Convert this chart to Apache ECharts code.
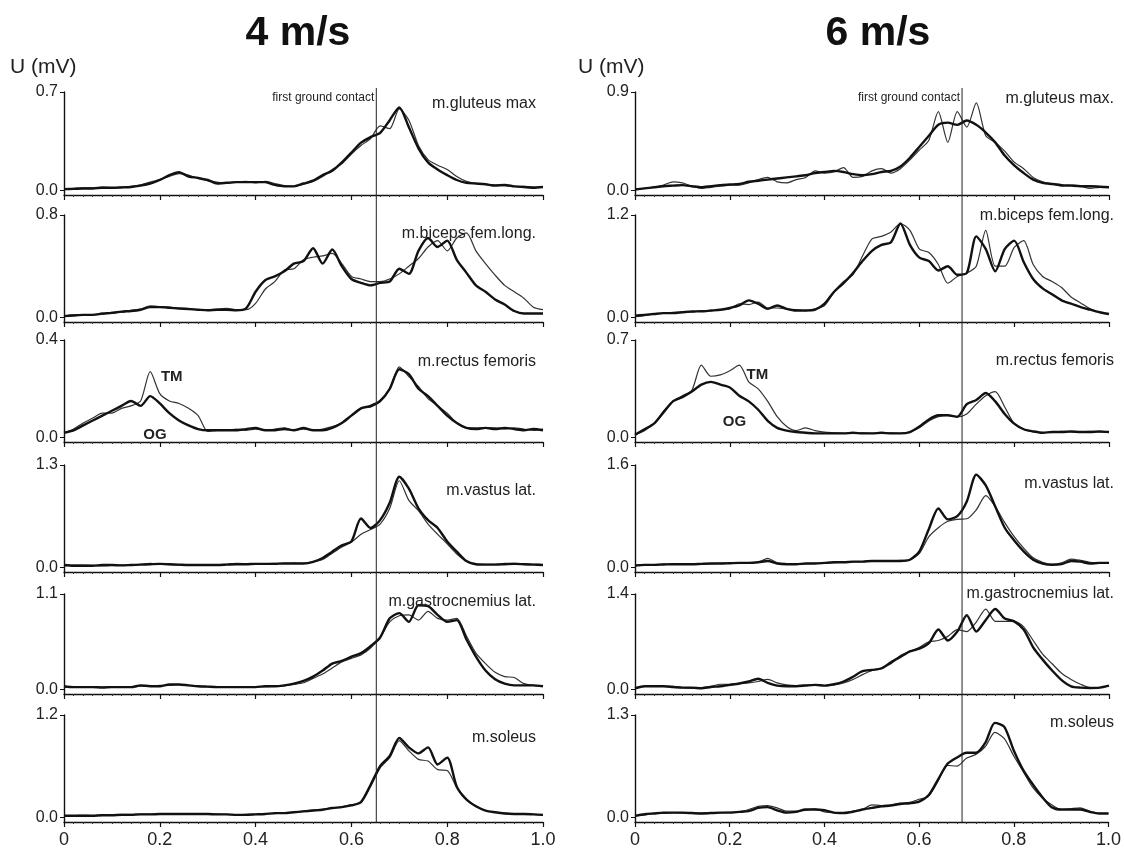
<!DOCTYPE html>
<html>
<head>
<meta charset="utf-8">
<script src="https://cdn.jsdelivr.net/npm/echarts@6/dist/echarts.min.js"></script>
<style>
html, body { margin: 0; padding: 0; background: #fff; }
#main { width: 1124px; height: 850px; }
</style>
</head>
<body>
<div id="main"></div>
<script>
// normalised stride time, 0 .. 1 in steps of 0.02
var xs = [0,0.02,0.04,0.06,0.08,0.1,0.12,0.14,0.16,0.18,0.2,0.22,0.24,0.26,0.28,0.3,0.32,0.34,0.36,0.38,
  0.4,0.42,0.44,0.46,0.48,0.5,0.52,0.54,0.56,0.58,0.6,0.62,0.64,0.66,0.68,0.7,0.72,0.74,0.76,0.78,
  0.8,0.82,0.84,0.86,0.88,0.9,0.92,0.94,0.96,0.98,1.0];

// 4 m/s  (OG = overground, thick; TM = treadmill, thin)
var og4Glut = [0.01,0.012,0.015,0.015,0.02,0.02,0.022,0.025,0.035,0.05,0.075,0.11,0.13,0.1,0.09,0.075,0.05,0.055,0.06,0.06,
  0.06,0.06,0.04,0.03,0.03,0.05,0.07,0.11,0.14,0.2,0.27,0.34,0.38,0.41,0.5,0.59,0.45,0.3,0.2,0.15,
  0.11,0.075,0.055,0.05,0.045,0.035,0.04,0.03,0.025,0.02,0.025];
var tm4Glut = [0.01,0.015,0.02,0.02,0.025,0.02,0.025,0.03,0.04,0.06,0.08,0.1,0.12,0.11,0.085,0.07,0.06,0.05,0.06,0.065,
  0.055,0.065,0.05,0.035,0.03,0.045,0.065,0.1,0.15,0.19,0.26,0.32,0.37,0.46,0.44,0.58,0.5,0.32,0.22,0.18,
  0.15,0.1,0.065,0.05,0.045,0.04,0.035,0.03,0.03,0.025,0.025];
var og4Bic = [0.01,0.015,0.02,0.02,0.03,0.035,0.045,0.05,0.06,0.08,0.08,0.075,0.07,0.065,0.06,0.055,0.06,0.06,0.055,0.07,
  0.2,0.29,0.32,0.36,0.42,0.44,0.54,0.42,0.53,0.4,0.3,0.27,0.25,0.27,0.28,0.38,0.34,0.52,0.62,0.55,
  0.6,0.45,0.35,0.25,0.2,0.14,0.1,0.05,0.03,0.03,0.03];
var tm4Bic = [0.01,0.02,0.015,0.02,0.025,0.04,0.04,0.055,0.065,0.09,0.085,0.08,0.07,0.07,0.06,0.06,0.065,0.07,0.06,0.06,
  0.11,0.22,0.28,0.37,0.38,0.45,0.47,0.48,0.5,0.42,0.32,0.3,0.28,0.28,0.3,0.34,0.4,0.46,0.55,0.6,
  0.52,0.62,0.66,0.52,0.42,0.33,0.25,0.2,0.15,0.08,0.06];
var og4Rect = [0.02,0.03,0.05,0.07,0.09,0.11,0.13,0.15,0.13,0.17,0.14,0.1,0.07,0.05,0.035,0.03,0.03,0.03,0.03,0.035,
  0.04,0.03,0.03,0.035,0.03,0.04,0.03,0.03,0.04,0.06,0.09,0.12,0.13,0.15,0.2,0.28,0.26,0.2,0.17,0.13,
  0.09,0.06,0.04,0.035,0.04,0.035,0.04,0.035,0.03,0.035,0.03];
var tm4Rect = [0.02,0.035,0.06,0.08,0.1,0.1,0.12,0.13,0.15,0.27,0.18,0.15,0.14,0.12,0.09,0.025,0.03,0.03,0.035,0.03,
  0.035,0.03,0.035,0.04,0.03,0.035,0.03,0.035,0.045,0.06,0.09,0.12,0.125,0.15,0.2,0.29,0.25,0.21,0.16,0.13,
  0.1,0.06,0.04,0.04,0.04,0.04,0.035,0.04,0.035,0.03,0.035];
var og4Vast = [0.03,0.02,0.02,0.02,0.03,0.03,0.025,0.03,0.035,0.04,0.045,0.04,0.035,0.03,0.03,0.03,0.03,0.035,0.04,0.04,
  0.045,0.045,0.045,0.05,0.05,0.05,0.07,0.12,0.2,0.28,0.33,0.62,0.5,0.6,0.82,1.15,1.0,0.75,0.6,0.5,
  0.33,0.2,0.08,0.04,0.035,0.035,0.04,0.045,0.04,0.035,0.03];
var tm4Vast = [0.02,0.03,0.03,0.025,0.02,0.025,0.03,0.03,0.04,0.05,0.04,0.035,0.03,0.03,0.03,0.03,0.035,0.04,0.05,0.045,
  0.04,0.045,0.05,0.05,0.055,0.05,0.07,0.1,0.18,0.26,0.32,0.42,0.48,0.55,0.75,1.1,0.85,0.72,0.55,0.42,
  0.3,0.17,0.08,0.04,0.04,0.04,0.05,0.05,0.045,0.04,0.035];
var og4Gast = [0.04,0.03,0.03,0.03,0.025,0.03,0.03,0.03,0.05,0.04,0.04,0.06,0.06,0.05,0.04,0.035,0.03,0.03,0.03,0.03,
  0.03,0.04,0.04,0.05,0.07,0.1,0.15,0.22,0.3,0.33,0.38,0.42,0.5,0.6,0.82,0.88,0.78,0.97,0.96,0.86,
  0.78,0.8,0.58,0.38,0.22,0.12,0.07,0.05,0.05,0.05,0.04];
var tm4Gast = [0.03,0.03,0.035,0.03,0.03,0.03,0.035,0.03,0.04,0.04,0.05,0.05,0.06,0.05,0.04,0.035,0.03,0.03,0.03,0.03,
  0.035,0.035,0.04,0.045,0.06,0.08,0.13,0.18,0.25,0.32,0.36,0.4,0.48,0.6,0.78,0.85,0.86,0.8,0.9,0.82,
  0.8,0.82,0.62,0.42,0.3,0.2,0.15,0.14,0.07,0.05,0.04];
var og4Sol = [0.02,0.02,0.02,0.02,0.025,0.025,0.03,0.03,0.035,0.035,0.04,0.04,0.04,0.04,0.04,0.04,0.035,0.035,0.03,0.03,
  0.035,0.04,0.05,0.05,0.06,0.07,0.08,0.09,0.11,0.12,0.14,0.18,0.38,0.6,0.72,0.93,0.82,0.75,0.82,0.62,
  0.7,0.36,0.21,0.13,0.08,0.06,0.045,0.04,0.04,0.035,0.03];
var tm4Sol = [0.02,0.02,0.025,0.02,0.03,0.03,0.035,0.035,0.04,0.04,0.04,0.045,0.04,0.045,0.04,0.04,0.04,0.035,0.03,0.035,
  0.035,0.04,0.045,0.05,0.06,0.075,0.085,0.095,0.11,0.125,0.15,0.17,0.36,0.58,0.7,0.9,0.78,0.68,0.66,0.56,
  0.55,0.35,0.22,0.13,0.08,0.06,0.05,0.04,0.04,0.035,0.03];

// 6 m/s
var og6Glut = [0.01,0.02,0.03,0.04,0.045,0.05,0.04,0.03,0.04,0.05,0.055,0.06,0.08,0.09,0.1,0.11,0.12,0.13,0.14,0.16,
  0.17,0.18,0.17,0.15,0.14,0.15,0.17,0.18,0.22,0.3,0.4,0.5,0.6,0.62,0.6,0.64,0.6,0.53,0.44,0.32,
  0.23,0.16,0.1,0.07,0.06,0.05,0.045,0.04,0.04,0.035,0.03];
var tm6Glut = [0.01,0.02,0.03,0.05,0.08,0.07,0.04,0.02,0.03,0.04,0.05,0.05,0.07,0.1,0.12,0.08,0.07,0.1,0.12,0.18,
  0.16,0.17,0.21,0.12,0.13,0.18,0.2,0.16,0.2,0.28,0.37,0.46,0.72,0.44,0.72,0.58,0.8,0.5,0.44,0.36,
  0.26,0.2,0.12,0.08,0.06,0.04,0.05,0.04,0.02,0.03,0.035];
var og6Bic = [0.02,0.03,0.04,0.05,0.05,0.06,0.07,0.07,0.08,0.09,0.11,0.14,0.2,0.16,0.1,0.14,0.1,0.08,0.08,0.09,
  0.16,0.3,0.4,0.52,0.66,0.78,0.85,0.88,1.1,0.85,0.7,0.66,0.55,0.6,0.5,0.52,0.95,0.8,0.54,0.8,
  0.9,0.65,0.45,0.34,0.27,0.2,0.16,0.12,0.09,0.06,0.04];
var tm6Bic = [0.01,0.02,0.04,0.05,0.06,0.06,0.06,0.08,0.08,0.09,0.1,0.16,0.15,0.18,0.11,0.11,0.1,0.09,0.08,0.1,
  0.14,0.3,0.42,0.5,0.72,0.92,0.95,1.0,1.1,1.02,0.8,0.76,0.62,0.4,0.48,0.52,0.6,1.02,0.6,0.6,
  0.82,0.9,0.62,0.48,0.42,0.35,0.24,0.17,0.1,0.06,0.04];
var og6Rect = [0.02,0.06,0.1,0.18,0.26,0.29,0.33,0.38,0.4,0.38,0.36,0.3,0.26,0.2,0.12,0.07,0.05,0.04,0.035,0.03,
  0.03,0.03,0.03,0.035,0.03,0.03,0.035,0.03,0.03,0.04,0.08,0.13,0.16,0.16,0.15,0.24,0.27,0.32,0.26,0.17,
  0.1,0.06,0.045,0.035,0.04,0.04,0.045,0.04,0.04,0.045,0.04];
var tm6Rect = [0.02,0.05,0.1,0.19,0.26,0.3,0.34,0.52,0.44,0.45,0.48,0.52,0.4,0.35,0.26,0.15,0.08,0.05,0.07,0.05,
  0.04,0.035,0.03,0.03,0.035,0.03,0.03,0.035,0.03,0.04,0.07,0.12,0.15,0.16,0.15,0.17,0.24,0.3,0.33,0.22,
  0.1,0.06,0.04,0.035,0.04,0.045,0.04,0.04,0.045,0.04,0.04];
var og6Vast = [0.03,0.04,0.04,0.045,0.05,0.05,0.05,0.055,0.06,0.06,0.065,0.07,0.07,0.08,0.1,0.06,0.05,0.05,0.06,0.06,
  0.07,0.08,0.08,0.09,0.09,0.1,0.1,0.1,0.1,0.12,0.25,0.6,0.92,0.75,0.8,1.03,1.45,1.28,0.95,0.62,
  0.42,0.25,0.12,0.06,0.04,0.05,0.1,0.09,0.06,0.07,0.07];
var tm6Vast = [0.03,0.04,0.045,0.05,0.05,0.055,0.05,0.06,0.06,0.065,0.07,0.07,0.075,0.08,0.14,0.07,0.06,0.05,0.06,0.065,
  0.07,0.075,0.08,0.085,0.09,0.1,0.1,0.1,0.11,0.12,0.22,0.48,0.62,0.72,0.75,0.76,0.9,1.12,0.95,0.7,
  0.48,0.3,0.15,0.08,0.05,0.07,0.13,0.11,0.08,0.07,0.07];
var og6Gast = [0.02,0.05,0.05,0.05,0.04,0.03,0.03,0.02,0.04,0.05,0.07,0.09,0.12,0.16,0.1,0.06,0.05,0.05,0.06,0.07,
  0.06,0.08,0.12,0.19,0.27,0.29,0.31,0.4,0.48,0.56,0.6,0.68,0.88,0.72,0.85,1.09,0.85,1.02,1.18,1.04,
  1.0,0.88,0.62,0.44,0.28,0.14,0.05,0.03,0.025,0.03,0.06];
var tm6Gast = [0.03,0.05,0.06,0.05,0.05,0.03,0.02,0.03,0.05,0.08,0.08,0.09,0.1,0.12,0.15,0.1,0.07,0.06,0.07,0.07,
  0.06,0.07,0.1,0.15,0.22,0.28,0.32,0.38,0.5,0.56,0.62,0.7,0.72,0.78,0.88,0.85,0.99,1.18,1.0,1.0,
  1.0,0.92,0.72,0.52,0.38,0.24,0.15,0.08,0.03,0.03,0.06];
var og6Sol = [0.02,0.04,0.05,0.06,0.06,0.06,0.055,0.05,0.055,0.06,0.06,0.07,0.08,0.12,0.13,0.09,0.06,0.07,0.1,0.1,
  0.09,0.06,0.055,0.07,0.1,0.12,0.14,0.15,0.17,0.18,0.2,0.28,0.48,0.68,0.76,0.82,0.82,0.95,1.2,1.15,
  0.85,0.6,0.42,0.26,0.13,0.1,0.1,0.1,0.07,0.05,0.05];
var tm6Sol = [0.02,0.03,0.05,0.05,0.06,0.055,0.05,0.055,0.06,0.06,0.065,0.07,0.1,0.14,0.15,0.12,0.08,0.08,0.09,0.11,
  0.07,0.06,0.06,0.08,0.1,0.16,0.15,0.16,0.18,0.19,0.23,0.27,0.46,0.66,0.65,0.75,0.8,0.9,1.08,1.0,
  0.78,0.58,0.38,0.25,0.16,0.1,0.11,0.12,0.08,0.05,0.05];

var speeds = ['4 m/s', '6 m/s'];
var musclesLeft = ['m.gluteus max', 'm.biceps fem.long.', 'm.rectus femoris', 'm.vastus lat.', 'm.gastrocnemius lat.', 'm.soleus'];
var musclesRight = ['m.gluteus max.', 'm.biceps fem.long.', 'm.rectus femoris', 'm.vastus lat.', 'm.gastrocnemius lat.', 'm.soleus'];
var maxLeft = [0.7, 0.8, 0.4, 1.3, 1.1, 1.2];
var maxRight = [0.9, 1.2, 0.7, 1.6, 1.4, 1.3];
var contact = [0.652, 0.69];
// label anchors in data coords for the rectus femoris panels: [x, y]
var tmLabel = [[0.225, 0.25], [0.258, 0.45]];
var ogLabel = [[0.19, 0.01], [0.21, 0.11]];

var ogData = [[og4Glut, og4Bic, og4Rect, og4Vast, og4Gast, og4Sol], [og6Glut, og6Bic, og6Rect, og6Vast, og6Gast, og6Sol]];
var tmData = [[tm4Glut, tm4Bic, tm4Rect, tm4Vast, tm4Gast, tm4Sol], [tm6Glut, tm6Bic, tm6Rect, tm6Vast, tm6Gast, tm6Sol]];
var muscles = [musclesLeft, musclesRight];
var maxes = [maxLeft, maxRight];

// layout
var FONT = '"Liberation Sans", Arial, sans-serif';
var rowTop = [92, 215, 340, 465, 594, 715];
var rowBottom = [195, 322, 442, 572, 694, 822];
var colLeft = [64, 635];
var colRight = [581, 15];
var nameTop = [[96, 226, 354, 483, 594, 730], [91, 208, 353, 476, 586, 715]];
var nameRight = [[588, 588, 588, 588, 588, 588], [10, 10, 10, 10, 10, 10]];

var chartDom = document.getElementById('main');
var myChart = echarts.init(chartDom);

var grids = [], xAxes = [], yAxes = [], series = [], titles = [];

function pairs(vals) {
  return xs.map(function (x, k) { return [x, vals[k]]; });
}

for (var c = 0; c < 2; c++) {
  titles.push({
    text: speeds[c], left: c === 0 ? 298 : 878, top: 13, textAlign: 'center', padding: 0,
    textStyle: { fontFamily: FONT, fontSize: 41, fontWeight: 'bold', color: '#111' }
  });
  titles.push({
    text: 'U (mV)', left: c === 0 ? 10 : 578, top: 57, padding: 0,
    textStyle: { fontFamily: FONT, fontSize: 21, fontWeight: 'normal', color: '#222' }
  });
  for (var r = 0; r < 6; r++) {
    var i = c * 6 + r;
    var mx = maxes[c][r];
    grids.push({ left: colLeft[c], right: colRight[c], top: rowTop[r], height: rowBottom[r] - rowTop[r] });
    xAxes.push({
      type: 'value', gridIndex: i, min: 0, max: 1, interval: 0.2,
      axisLine: { onZero: false, lineStyle: { color: '#111', width: 1.4 } },
      axisTick: { show: true, length: 5, lineStyle: { color: '#111', width: 1.2 } },
      minorTick: { show: true, splitNumber: 10, length: 2, lineStyle: { color: '#333' } },
      splitLine: { show: false },
      axisLabel: {
        show: r === 5, fontFamily: FONT, fontSize: 18, color: '#222', margin: 9,
        formatter: function (v) { return v === 0 ? '0' : v.toFixed(1); }
      }
    });
    yAxes.push({
      type: 'value', gridIndex: i, min: -0.045 * mx, max: mx,
      axisLine: { show: true, lineStyle: { color: '#111', width: 1.4 } },
      axisTick: { show: true, length: 4, customValues: [0, mx], lineStyle: { color: '#111' } },
      splitLine: { show: false },
      axisLabel: {
        customValues: [0, mx], fontFamily: FONT, fontSize: 16, color: '#222', margin: 6,
        formatter: function (v) { return v.toFixed(1); }
      }
    });
    titles.push({
      text: muscles[c][r], right: nameRight[c][r], top: nameTop[c][r], padding: 0,
      textStyle: { fontFamily: FONT, fontSize: 16, fontWeight: 'normal', color: '#222' }
    });
    var ogSeries = {
      name: 'OG', type: 'line', xAxisIndex: i, yAxisIndex: i, data: pairs(ogData[c][r]),
      showSymbol: false, smooth: 0.25, z: 3,
      lineStyle: { color: '#111', width: 2.4 }
    };
    if (r === 2) {
      ogSeries.markPoint = {
        symbol: 'rect', symbolSize: 1, itemStyle: { color: 'rgba(0,0,0,0)' },
        label: { show: true, position: 'inside', fontFamily: FONT, fontSize: 15, fontWeight: 'bold', color: '#222',
          formatter: function (p) { return p.name; } },
        data: [
          { name: 'TM', coord: tmLabel[c] },
          { name: 'OG', coord: ogLabel[c] }
        ]
      };
    }
    series.push(ogSeries);
    series.push({
      name: 'TM', type: 'line', xAxisIndex: i, yAxisIndex: i, data: pairs(tmData[c][r]),
      showSymbol: false, smooth: 0.25, z: 2,
      lineStyle: { color: '#333', width: 1.2 }
    });
  }
}

var option = {
  backgroundColor: '#fff',
  animation: false,
  title: titles,
  grid: grids,
  xAxis: xAxes,
  yAxis: yAxes,
  series: series
};

option && myChart.setOption(option);

// first ground contact lines, placed through the x scale of each column
var marks = [];
for (var c2 = 0; c2 < 2; c2++) {
  var px = myChart.convertToPixel({ xAxisIndex: c2 * 6 }, contact[c2]);
  marks.push({
    type: 'line', z: 10,
    shape: { x1: px, y1: rowTop[0] - 4, x2: px, y2: rowBottom[5] },
    style: { stroke: '#222', lineWidth: 1 }
  });
  marks.push({
    type: 'text', z: 10, x: px - 2, y: rowTop[0] + 6,
    style: { text: 'first ground contact', fontFamily: FONT, fontSize: 12, fill: '#222', align: 'right', verticalAlign: 'middle' }
  });
}
myChart.setOption({ graphic: marks });
</script>
</body>
</html>
